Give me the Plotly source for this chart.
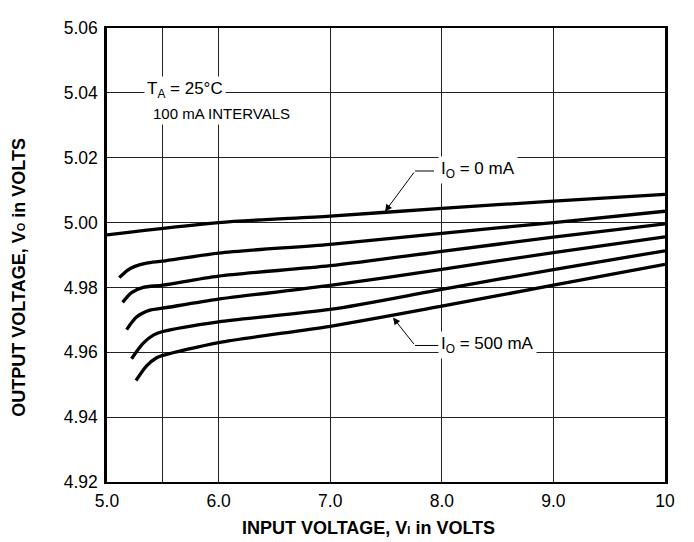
import plotly.graph_objects as go

# ---- data ----
load_labels = ["0 mA", "100 mA", "200 mA", "300 mA", "400 mA", "500 mA"]

vi_0 = [5.00, 6.00, 7.00, 8.00, 9.00, 10.00]
vo_0 = [4.9962, 5.0000, 5.0020, 5.0044, 5.0066, 5.0087]

vi_100 = [5.11, 5.18, 5.25, 5.355, 5.50, 6.00, 7.00, 8.00, 9.00, 10.00]
vo_100 = [4.9830, 4.9852, 4.9865, 4.9875, 4.9881, 4.9906, 4.9933, 4.9967, 5.0000, 5.0035]

vi_200 = [5.14, 5.22, 5.325, 5.50, 6.00, 7.00, 8.00, 9.00, 10.00]
vo_200 = [4.9754, 4.9784, 4.9800, 4.9807, 4.9835, 4.9867, 4.9911, 4.9955, 4.9996]

vi_300 = [5.176, 5.265, 5.385, 5.50, 6.00, 7.00, 8.00, 9.00, 10.00]
vo_300 = [4.9670, 4.9709, 4.9730, 4.9736, 4.9764, 4.9806, 4.9856, 4.9907, 4.9956]

vi_400 = [5.22, 5.325, 5.415, 5.50, 6.00, 7.00, 8.00, 9.00, 10.00]
vo_400 = [4.9580, 4.9628, 4.9653, 4.9664, 4.9694, 4.9732, 4.9794, 4.9855, 4.9913]

vi_500 = [5.26, 5.355, 5.445, 5.50, 6.00, 7.00, 8.00, 9.00, 10.00]
vo_500 = [4.9513, 4.9558, 4.9583, 4.9590, 4.9630, 4.9680, 4.9742, 4.9807, 4.9871]

x_tickvals = [5.0, 5.5, 6.0, 7.0, 8.0, 9.0, 10.0]
x_ticktext = ["5.0", "", "6.0", "7.0", "8.0", "9.0", "10"]
y_tickvals = [4.92, 4.94, 4.96, 4.98, 5.00, 5.02, 5.04, 5.06]

FONT = "Liberation Sans, Arial, Helvetica, sans-serif"

series = [(vi_0, vo_0), (vi_100, vo_100), (vi_200, vo_200),
          (vi_300, vo_300), (vi_400, vo_400), (vi_500, vo_500)]

fig = go.Figure()
for (xs, ys), name in zip(series, load_labels):
    fig.add_trace(go.Scatter(
        x=xs, y=ys, mode="lines", name=name,
        line=dict(color="black", width=3.3, shape="spline", smoothing=0.8),
        hoverinfo="x+y+name", showlegend=False,
    ))

# page body adds an 8px margin, so the figure is sized to fit the window
fig.update_layout(
    width=686, height=534,
    margin=dict(l=99, r=29, t=10, b=60),
    paper_bgcolor="white", plot_bgcolor="white",
    font=dict(family=FONT, color="black", size=17),
)

fig.update_xaxes(
    range=[5, 10], tickmode="array", tickvals=x_tickvals, ticktext=x_ticktext,
    showgrid=True, gridcolor="#222222", gridwidth=1,
    showline=True, linecolor="black", linewidth=2, mirror=True,
    ticks="", ticklabelstandoff=2, zeroline=False,
    tickfont=dict(size=17.5, family=FONT),
)
fig.update_yaxes(
    range=[4.92, 5.06], tickmode="array", tickvals=y_tickvals,
    tickformat=".2f",
    showgrid=True, gridcolor="#222222", gridwidth=1,
    showline=True, linecolor="black", linewidth=2.5, mirror=True,
    ticks="", ticklabelstandoff=3, zeroline=False,
    tickfont=dict(size=17.5, family=FONT),
)

# axis titles
fig.add_annotation(
    text="<b>INPUT VOLTAGE, V<span style='font-size:11px'>I</span> in VOLTS</b>",
    xref="paper", yref="paper", x=0.4695, y=-0.101, xanchor="center", yanchor="middle",
    showarrow=False, font=dict(size=18, family=FONT, color="black"),
)
fig.add_annotation(
    text="<b>OUTPUT VOLTAGE, V<span style='font-size:11px'>O</span> in VOLTS</b>",
    xref="paper", yref="paper", x=-0.158, y=0.452, xanchor="center", yanchor="middle",
    textangle=-90, showarrow=False, font=dict(size=18, family=FONT, color="black"),
)

# condition labels
fig.add_annotation(
    text="T<sub>A</sub> = 25°C", x=5.33, y=5.0408, xanchor="left", yanchor="middle",
    showarrow=False, bgcolor="white", borderpad=2,
    font=dict(size=17, family=FONT, color="black"),
)
fig.add_annotation(
    text="100 mA INTERVALS", x=5.385, y=5.0336, xanchor="left", yanchor="middle",
    showarrow=False, bgcolor="white", borderpad=2,
    font=dict(size=15, family=FONT, color="black"),
)

# curve callouts
callouts = [
    # text, text_x, text_y, tip_x, tip_y, bend_x, bend_y, end_x
    ("I<sub>O</sub> = 0 mA", 7.966, 5.0162, 7.491, 5.0034, 7.760, 5.0159, 7.93),
    ("I<sub>O</sub> = 500 mA", 7.966, 4.9623, 7.563, 4.9707, 7.760, 4.9621, 7.97),
]
for text, tx, ty, px, py, bx, by, ex in callouts:
    fig.add_annotation(
        text=text, x=tx, y=ty, xanchor="left", yanchor="middle",
        showarrow=False, bgcolor="white", borderpad=2,
        font=dict(size=17, family=FONT, color="black"),
    )
    fig.add_annotation(
        text="", x=px, y=py, ax=bx, ay=by, axref="x", ayref="y",
        showarrow=True, arrowhead=2, arrowsize=1.4, arrowwidth=1,
        arrowcolor="black", standoff=0,
    )
    fig.add_shape(type="line", x0=bx, y0=by, x1=ex, y1=by,
                  line=dict(color="black", width=1))

fig.write_html("out.html")
